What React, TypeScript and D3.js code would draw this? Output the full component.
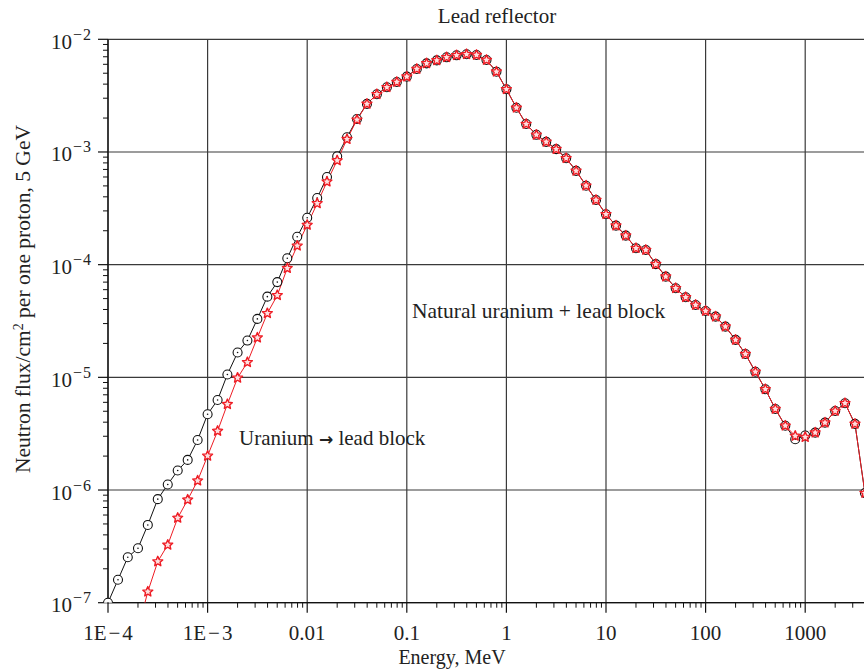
import React from "react";
import * as d3 from "d3";

// Energy grid (MeV), 10 points per decade
const energies: number[] = [
  1.0e-4, 1.26e-4, 1.58e-4, 2.0e-4, 2.51e-4, 3.16e-4, 3.98e-4, 5.01e-4, 6.31e-4, 7.94e-4,
  1.0e-3, 1.26e-3, 1.58e-3, 2.0e-3, 2.51e-3, 3.16e-3, 3.98e-3, 5.01e-3, 6.31e-3, 7.94e-3,
  1.0e-2, 1.26e-2, 1.58e-2, 2.0e-2, 2.51e-2, 3.16e-2, 3.98e-2, 5.01e-2, 6.31e-2, 7.94e-2,
  0.1, 0.126, 0.158, 0.2, 0.251, 0.316, 0.398, 0.501, 0.631, 0.794,
  1.0, 1.26, 1.58, 2.0, 2.51, 3.16, 3.98, 5.01, 6.31, 7.94,
  10, 12.6, 15.8, 20, 25.1, 31.6, 39.8, 50.1, 63.1, 79.4,
  100, 126, 158, 200, 251, 316, 398, 501, 631, 794,
  1000, 1260, 1580, 2000, 2510, 3160, 3980,
];

// Uranium -> lead block (black circles)
const uraniumFlux: number[] = [
  1.0e-7, 1.6e-7, 2.53e-7, 3.04e-7, 4.9e-7, 8.3e-7, 1.12e-6, 1.49e-6, 1.85e-6, 2.78e-6,
  4.7e-6, 6.3e-6, 1.06e-5, 1.66e-5, 2.12e-5, 3.3e-5, 5.2e-5, 7.0e-5, 1.14e-4, 1.77e-4,
  2.61e-4, 3.9e-4, 6.0e-4, 9.15e-4, 1.35e-3, 1.96e-3, 2.67e-3, 3.25e-3, 3.75e-3, 4.18e-3,
  4.66e-3, 5.45e-3, 6.12e-3, 6.5e-3, 6.92e-3, 7.21e-3, 7.36e-3, 7.26e-3, 6.55e-3, 5.16e-3,
  3.6e-3, 2.47e-3, 1.77e-3, 1.42e-3, 1.23e-3, 1.06e-3, 8.8e-4, 6.8e-4, 5.02e-4, 3.75e-4,
  2.8e-4, 2.22e-4, 1.81e-4, 1.4e-4, 1.35e-4, 1.01e-4, 7.83e-5, 6.18e-5, 5.14e-5, 4.39e-5,
  3.88e-5, 3.46e-5, 2.82e-5, 2.15e-5, 1.61e-5, 1.12e-5, 7.84e-6, 5.24e-6, 3.72e-6, 2.82e-6,
  3.05e-6, 3.23e-6, 3.96e-6, 5.03e-6, 5.89e-6, 3.86e-6, 9.4e-7,
];

// Natural uranium + lead block (red stars)
const naturalFlux: (number | null)[] = [
  null, null, null, 5.8e-8, 1.25e-7, 2.32e-7, 3.26e-7, 5.65e-7, 8.2e-7, 1.21e-6,
  2.01e-6, 3.34e-6, 5.77e-6, 9.9e-6, 1.36e-5, 2.25e-5, 3.7e-5, 5.35e-5, 9.3e-5, 1.47e-4,
  2.25e-4, 3.5e-4, 5.45e-4, 8.4e-4, 1.3e-3, 1.93e-3, 2.67e-3, 3.25e-3, 3.75e-3, 4.18e-3,
  4.66e-3, 5.45e-3, 6.12e-3, 6.5e-3, 6.92e-3, 7.21e-3, 7.36e-3, 7.26e-3, 6.55e-3, 5.16e-3,
  3.6e-3, 2.47e-3, 1.77e-3, 1.42e-3, 1.23e-3, 1.06e-3, 8.8e-4, 6.8e-4, 5.02e-4, 3.75e-4,
  2.8e-4, 2.22e-4, 1.81e-4, 1.4e-4, 1.35e-4, 1.01e-4, 7.83e-5, 6.18e-5, 5.14e-5, 4.39e-5,
  3.88e-5, 3.46e-5, 2.82e-5, 2.15e-5, 1.61e-5, 1.12e-5, 7.84e-6, 5.24e-6, 3.72e-6, 3.02e-6,
  2.95e-6, 3.23e-6, 3.96e-6, 5.03e-6, 5.89e-6, 3.86e-6, 9.4e-7,
];

const xMajorTicks: number[] = [1e-4, 1e-3, 1e-2, 0.1, 1, 10, 100, 1000];
const xTickLabels: string[] = ["1E\u22124", "1E\u22123", "0.01", "0.1", "1", "10", "100", "1000"];
const yMajorExps: number[] = [-7, -6, -5, -4, -3, -2];

const W = 864;
const H = 672;
const left = 108;
const top = 39.3;
const bottom = 602.7;
const decadeX = 99.6;

const x = d3.scaleLog().domain([1e-4, 1e4]).range([left, left + 8 * decadeX]);
const y = d3.scaleLog().domain([1e-7, 1e-2]).range([bottom, top]);

function starPath(cx: number, cy: number, R: number, r: number) {
  const pts: string[] = [];
  for (let i = 0; i < 10; i++) {
    const a = -Math.PI / 2 + (i * Math.PI) / 5;
    const rad = i % 2 === 0 ? R : r;
    pts.push(`${(cx + rad * Math.cos(a)).toFixed(2)},${(cy + rad * Math.sin(a)).toFixed(2)}`);
  }
  return "M" + pts.join("L") + "Z";
}

function XLabel({ label, cx }: { label: string; cx: number }) {
  if (label.startsWith("1E")) {
    const parts = label.split("\u2212");
    return (
      <text x={cx} y={640} textAnchor="middle" fontSize={21} fill="#222">
        {parts[0]}
        <tspan dx={2}>{"\u2212"}</tspan>
        <tspan dx={2}>{parts[1]}</tspan>
      </text>
    );
  }
  return (
    <text x={cx} y={640} textAnchor="middle" fontSize={21} fill="#222">
      {label}
    </text>
  );
}

export default function App() {
  const font = "'Liberation Serif', 'Times New Roman', serif";
  const minorX: number[] = [];
  for (let e = -4; e < 4; e++) for (let m = 2; m <= 9; m++) minorX.push(m * Math.pow(10, e));
  const minorY: number[] = [];
  for (let e = -7; e < -2; e++) for (let m = 2; m <= 9; m++) minorY.push(m * Math.pow(10, e));

  const blackPts = energies.map((e, i) => ({ e, v: uraniumFlux[i] }));
  const redPts = energies
    .map((e, i) => ({ e, v: naturalFlux[i] }))
    .filter((d) => d.v !== null) as { e: number; v: number }[];

  const line = d3
    .line<{ e: number; v: number }>()
    .x((d) => x(d.e))
    .y((d) => y(d.v));

  const gridColor = "#3a3a3a";

  return (
    <svg
      width={W}
      height={H}
      style={{ position: "absolute", left: 0, top: 0, background: "#fff" }}
      fontFamily={font}
    >
      <defs>
        <clipPath id="plotClip">
          <rect x={left - 6} y={top - 6} width={W - left + 6} height={bottom - top + 6} />
        </clipPath>
        <clipPath id="lineClip">
          <rect x={left} y={top} width={W - left} height={bottom - top} />
        </clipPath>
      </defs>

      {/* grid */}
      {xMajorTicks.map((t) => (
        <line key={"gx" + t} x1={x(t)} x2={x(t)} y1={top} y2={bottom} stroke={gridColor} strokeWidth={1.2} />
      ))}
      {yMajorExps.map((p) => (
        <line
          key={"gy" + p}
          x1={left}
          x2={W}
          y1={y(Math.pow(10, p))}
          y2={y(Math.pow(10, p))}
          stroke={gridColor}
          strokeWidth={1.2}
        />
      ))}

      {/* axes */}
      <line x1={left} x2={left} y1={top} y2={bottom + 0.6} stroke="#111" strokeWidth={1.3} />
      <line x1={left} x2={W} y1={bottom} y2={bottom} stroke="#111" strokeWidth={1.3} />
      {xMajorTicks.map((t) => (
        <line key={"xt" + t} x1={x(t)} x2={x(t)} y1={bottom} y2={bottom + 10} stroke="#111" strokeWidth={1.2} />
      ))}
      {minorX.map((t) => (
        <line key={"xm" + t} x1={x(t)} x2={x(t)} y1={bottom} y2={bottom + 5} stroke="#111" strokeWidth={1} />
      ))}
      {yMajorExps.map((p) => (
        <line
          key={"yt" + p}
          x1={left - 10}
          x2={left}
          y1={y(Math.pow(10, p))}
          y2={y(Math.pow(10, p))}
          stroke="#111"
          strokeWidth={1.2}
        />
      ))}
      {minorY.map((t) => (
        <line key={"ym" + t} x1={left - 5} x2={left} y1={y(t)} y2={y(t)} stroke="#111" strokeWidth={1} />
      ))}

      {/* tick labels */}
      {xMajorTicks.map((t, i) => (
        <XLabel key={"xl" + t} label={xTickLabels[i]} cx={x(t)} />
      ))}
      {yMajorExps.map((p) => (
        <text key={"yl" + p} x={91} y={y(Math.pow(10, p)) + 9.5} textAnchor="end" fontSize={21} fill="#222">
          10
          <tspan dy={-9} dx={1} fontSize={16}>
            {"\u2212"}
          </tspan>
          <tspan dx={1} fontSize={16}>
            {String(Math.abs(p))}
          </tspan>
        </text>
      ))}

      {/* axis titles */}
      <text x={452} y={664} textAnchor="middle" fontSize={20} fill="#222">
        Energy, MeV
      </text>
      <text transform={`translate(30,299) rotate(-90)`} textAnchor="middle" fontSize={21.5} fill="#222">
        Neutron flux/cm
        <tspan dy={-7} fontSize={14}>
          2
        </tspan>
        <tspan dy={7}>{" per one proton, 5 GeV"}</tspan>
      </text>
      <text x={497} y={23} textAnchor="middle" fontSize={21} fill="#222">
        Lead reflector
      </text>

      {/* annotations */}
      <text x={412} y={318} fontSize={21.5} fill="#222">
        {"Natural uranium + lead block"}
      </text>
      <text x={239} y={445} fontSize={21} fill="#222">
        {"Uranium "}
        <tspan fontFamily="'DejaVu Sans', sans-serif" fontSize={17} fontWeight="bold">
          {"\u2192"}
        </tspan>
        {" lead block"}
      </text>

      {/* series */}
      <g clipPath="url(#lineClip)">
        <path d={line(blackPts) || ""} fill="none" stroke="#111" strokeWidth={1} />
        <path d={line(redPts) || ""} fill="none" stroke="#ee1c24" strokeWidth={1} />
      </g>
      <g clipPath="url(#plotClip)">
        {blackPts.map((d, i) => (
          <g key={"c" + i}>
            <circle cx={x(d.e)} cy={y(d.v)} r={4.5} fill="#fff" stroke="#111" strokeWidth={1.1} />
            <circle cx={x(d.e)} cy={y(d.v)} r={0.8} fill="#111" />
          </g>
        ))}
        {redPts
          .filter((d) => d.v >= 1e-7)
          .map((d, i) => (
            <path
              key={"s" + i}
              d={starPath(x(d.e), y(d.v), 5.2, 2.4)}
              fill="#fde0e0"
              stroke="#ee1c24"
              strokeWidth={1.4}
              strokeLinejoin="round"
            />
          ))}
      </g>
    </svg>
  );
}
